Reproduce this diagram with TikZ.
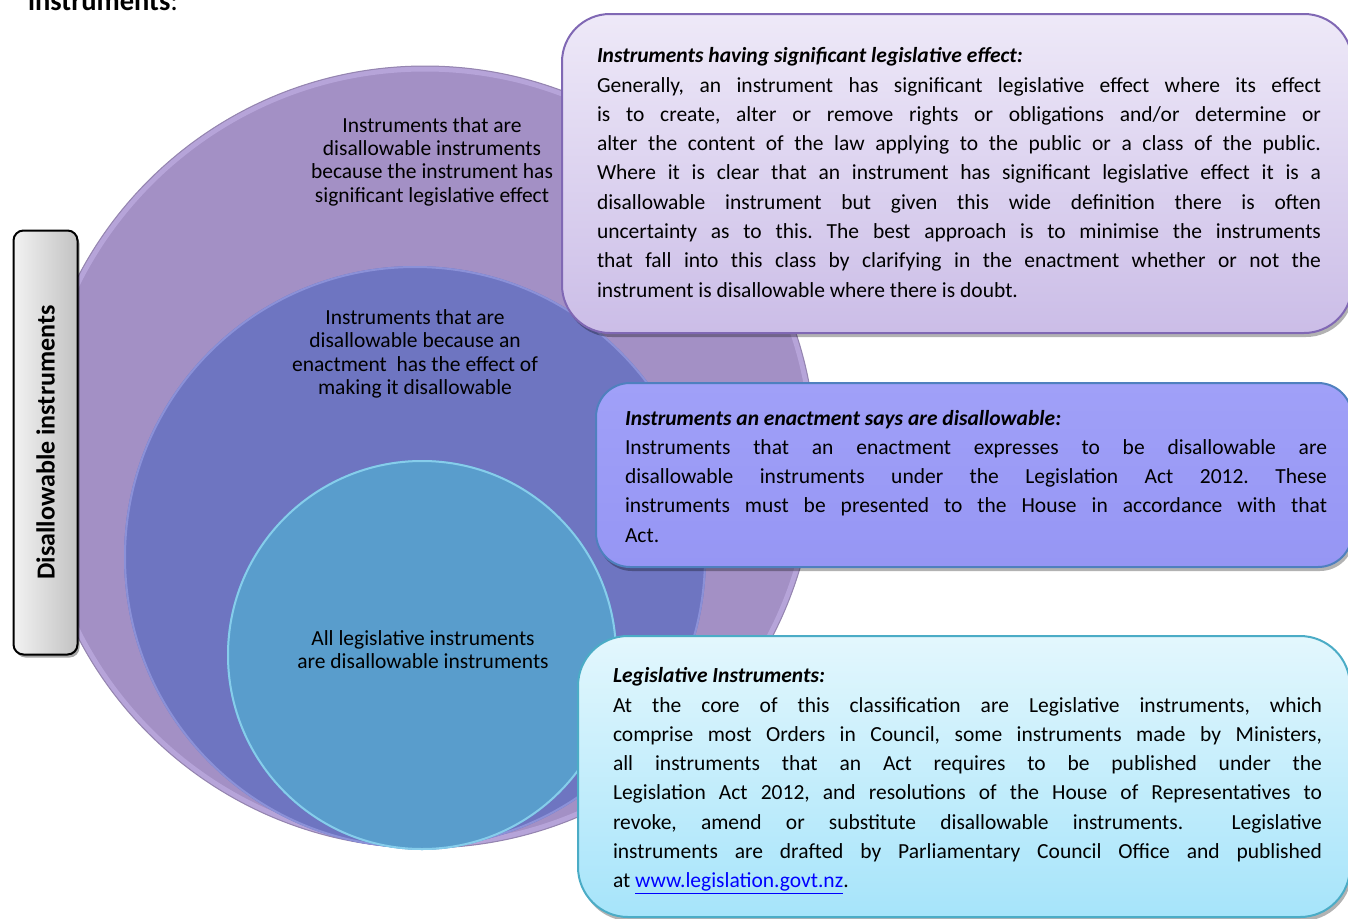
\documentclass[tikz,border=0pt]{standalone}
\usepackage{fontspec}
\usepackage{graphicx}
\setmainfont{Carlito}
\usetikzlibrary{shadows}

\definecolor{outerfill}{HTML}{A390C5}
\definecolor{outerrim}{HTML}{B6A4D9}
\definecolor{outeredge}{HTML}{9585B0}
\definecolor{midfill}{HTML}{6E75C1}
\definecolor{midrim}{HTML}{8B91D8}
\definecolor{innerfill}{HTML}{599DCC}
\definecolor{innerrim}{HTML}{86CDEB}
\definecolor{sigtop}{HTML}{EEE9F8}
\definecolor{sigbot}{HTML}{CBBDE7}
\definecolor{sigline}{HTML}{8068B4}
\definecolor{enatop}{HTML}{A0A0F8}
\definecolor{enabot}{HTML}{9696F4}
\definecolor{enaline}{HTML}{4F80BE}
\definecolor{legtop}{HTML}{E3F7FD}
\definecolor{legbot}{HTML}{A6E4FA}
\definecolor{legline}{HTML}{4BACC6}
\definecolor{sidelight}{HTML}{F2F2F2}
\definecolor{sidedark}{HTML}{C2C2C2}
\definecolor{linkblue}{HTML}{0000FF}

\newcommand{\bodyfont}{\fontsize{21.5}{29.3}\selectfont}
\newcommand{\labelfont}{\fontsize{21.5}{23.4}\selectfont}
\newcommand{\jl}[1]{\makebox[\linewidth][s]{#1}\\}
\frenchspacing

\begin{document}
\begin{tikzpicture}[x=1pt,y=-1pt,
  every node/.style={inner sep=0pt, outer sep=0pt},
  boxshadow/.style={drop shadow={shadow xshift=2pt, shadow yshift=-4pt, opacity=0.3, fill=black}},
  infobox/.style={draw, line width=2pt, anchor=north west, boxshadow},
  boxtext/.style={anchor=base west, font=\bodyfont},
  circlelabel/.style={anchor=base, font=\labelfont}]

\useasboundingbox (0,0) rectangle (1348,918);

% heading cut at the top edge
\node (head) [anchor=base west, font=\fontsize{28.5}{34}\selectfont] at (28,10.7) {\textbf{instruments}:};

% nested sets, all touching at the bottom
\fill[outerfill] (425,457) circle [radius=391];
\draw[outerrim, line width=5pt] (425,457) circle [radius=388];
\draw[outeredge, line width=1pt] (425,457) circle [radius=391];
\fill[midfill] (415,557) circle [radius=291];
\draw[midrim, line width=2pt] (415,557) circle [radius=290];
\fill[innerfill] (422,655) circle [radius=195];
\draw[innerrim, line width=2pt] (422,655) circle [radius=194];

\node (lsig) [circlelabel] at (432,132) {\parbox[t]{280pt}{\centering
  Instruments that are\\ disallowable instruments\\ because the instrument has\\ significant legislative effect}};
\node (lena) [circlelabel] at (415,324.5) {\parbox[t]{280pt}{\centering
  Instruments that are\\ disallowable because an\\ enactment\ \ has the effect of\\ making it disallowable}};
\node (lleg) [circlelabel] at (423,645) {\parbox[t]{280pt}{\centering
  All legislative instruments\\ are disallowable instruments}};

% side caption
\node (side) [draw=black, line width=2pt, rounded corners=10pt,
  minimum width=64pt, minimum height=424pt, left color=sidelight, right color=sidedark,
  drop shadow={shadow xshift=2pt, shadow yshift=-3pt, opacity=0.35, fill=black},
  font=\bfseries\fontsize{26}{30}\selectfont] at (45.5,442.5)
  {\rotatebox{90}{Disallowable instruments}};

% description boxes
\node (bsig) [infobox, draw=sigline, top color=sigtop, bottom color=sigbot,
  rounded corners=48pt, minimum width=790pt, minimum height=319pt] at (562,14) {};
\node (bena) [infobox, draw=enaline, top color=enatop, bottom color=enabot,
  rounded corners=34pt, minimum width=756pt, minimum height=184pt] at (596,383) {};
\node (bleg) [infobox, draw=legline, top color=legtop, bottom color=legbot,
  rounded corners=50pt, minimum width=772pt, minimum height=281pt] at (578,636) {};

\node (tsig) [boxtext] at (597,62.7) {\parbox[t]{724pt}{\bodyfont
  \textbf{\textit{Instruments having significant legislative effect:}}\\
  \jl{Generally, an instrument has significant legislative effect where its effect}
  \jl{is to create, alter or remove rights or obligations and/or determine or}
  \jl{alter the content of the law applying to the public or a class of the public.}
  \jl{Where it is clear that an instrument has significant legislative effect it is a}
  \jl{disallowable instrument but given this wide definition there is often}
  \jl{uncertainty as to this. The best approach is to minimise the instruments}
  \jl{that fall into this class by clarifying in the enactment whether or not the}
  instrument is disallowable where there is doubt.}};

\node (tena) [boxtext] at (625,425) {\parbox[t]{702pt}{\bodyfont
  \textbf{\textit{Instruments an enactment says are disallowable:}}\\
  \jl{Instruments that an enactment expresses to be disallowable are}
  \jl{disallowable instruments under the Legislation Act 2012. These}
  \jl{instruments must be presented to the House in accordance with that}
  Act.}};

\node (tleg) [boxtext] at (613,682.7) {\parbox[t]{709pt}{\bodyfont
  \textbf{\textit{Legislative Instruments:}}\\
  \jl{At the core of this classification are Legislative instruments, which}
  \jl{comprise most Orders in Council, some instruments made by Ministers,}
  \jl{all instruments that an Act requires to be published under the}
  \jl{Legislation Act 2012, and resolutions of the House of Representatives to}
  \jl{revoke, amend or substitute disallowable instruments.\ \ Legislative}
  \jl{instruments are drafted by Parliamentary Council Office and published}
  at \textcolor{linkblue}{\underline{www.legislation.govt.nz}}.}};

\end{tikzpicture}
\end{document}
